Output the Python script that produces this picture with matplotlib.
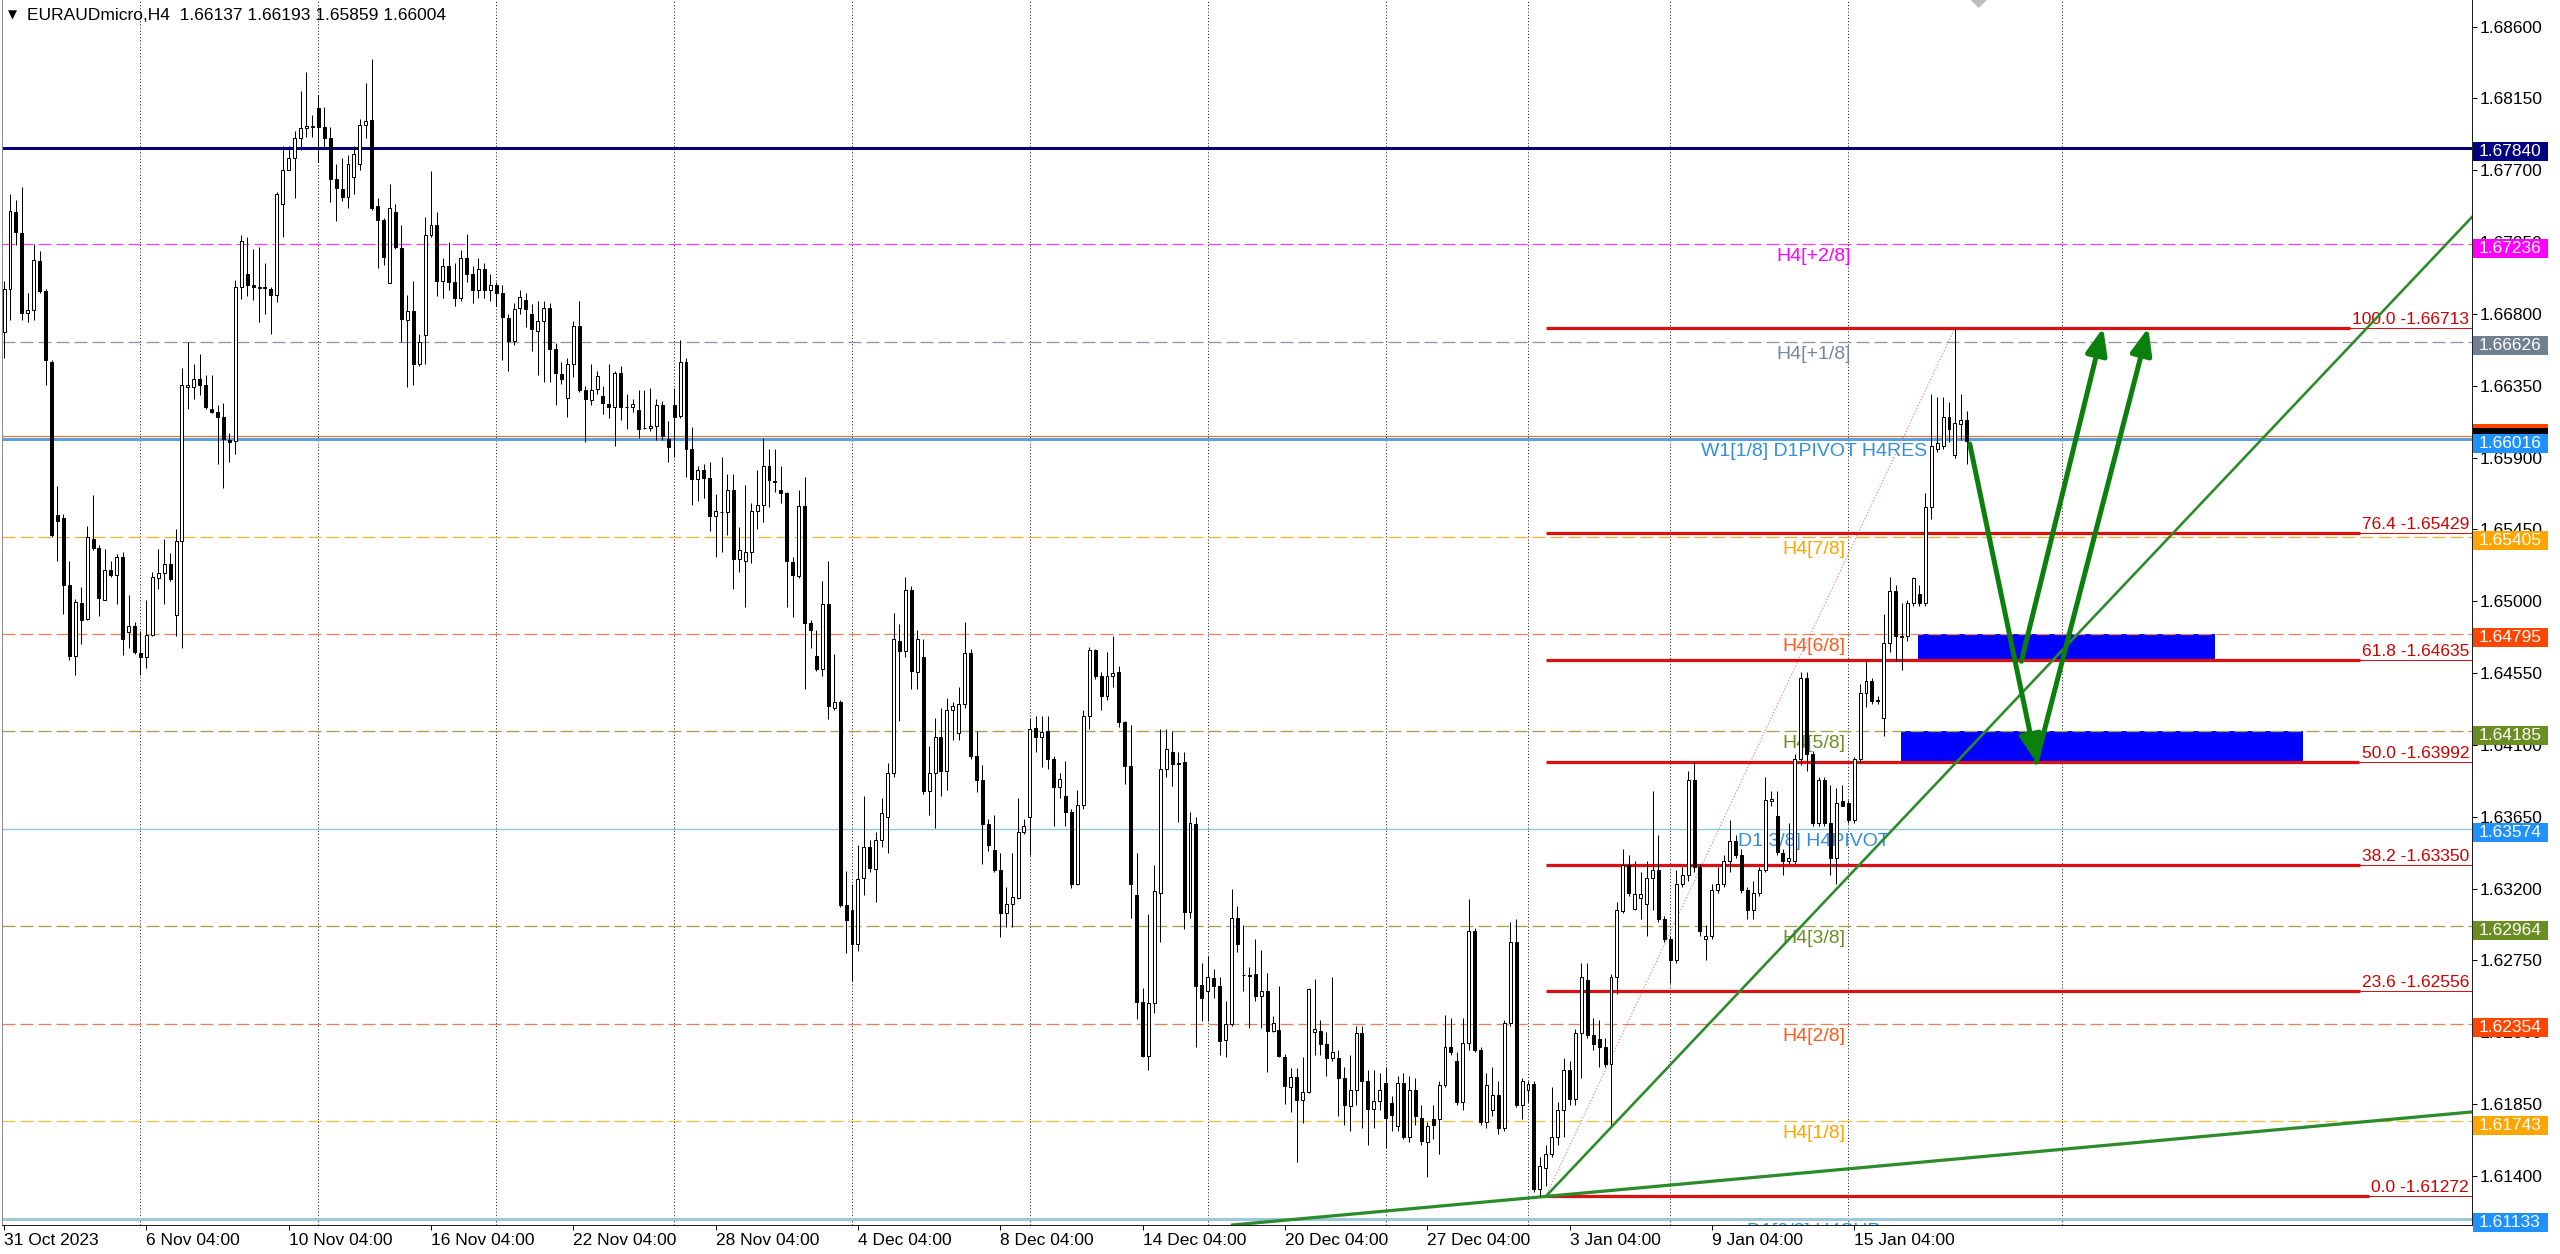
import numpy as np
import matplotlib
matplotlib.use("Agg")
import matplotlib.pyplot as plt
from matplotlib.patches import Rectangle, FancyArrowPatch, Polygon
from matplotlib.transforms import blended_transform_factory

plt.rcParams['font.family'] = ['Liberation Sans', 'DejaVu Sans']
plt.rcParams['lines.scale_dashes'] = False

# ---------------------------------------------------------------- data
symbol = 'EURAUDmicro,H4'

opens = [
    1.66686, 1.66958, 1.67440, 1.67304, 1.66805, 1.66827, 1.67131, 1.66946, 1.66501, 1.65541,
    1.65519, 1.65103, 1.64658, 1.64992, 1.64886, 1.65388, 1.65331, 1.65010, 1.65195, 1.65165,
    1.65277, 1.64807, 1.64844, 1.64678, 1.64651, 1.64787, 1.65148, 1.65178, 1.65232, 1.64911,
    1.65376, 1.66345, 1.66345, 1.66389, 1.66352, 1.66204, 1.66187, 1.66155, 1.66011, 1.66006,
    1.66971, 1.67052, 1.66978, 1.66971, 1.66968, 1.66958, 1.66921, 1.67490, 1.67700, 1.67779,
    1.67903, 1.67967, 1.67972, 1.68091, 1.67972, 1.67903, 1.67643, 1.67584, 1.67532, 1.67656,
    1.67737, 1.67984, 1.68017, 1.67473, 1.67386, 1.66995, 1.67440, 1.67213, 1.66760, 1.66815,
    1.66488, 1.66666, 1.67292, 1.67354, 1.67008, 1.67100, 1.67000, 1.66900, 1.67150, 1.67050,
    1.66950, 1.67080, 1.66950, 1.66980, 1.66930, 1.66775, 1.66629, 1.66837, 1.66890, 1.66797,
    1.66694, 1.66756, 1.66837, 1.66580, 1.66423, 1.66276, 1.66485, 1.66721, 1.66322, 1.66260,
    1.66330, 1.66287, 1.66238, 1.66219, 1.66431, 1.66219, 1.66214, 1.66200, 1.66086, 1.66086,
    1.66100, 1.66227, 1.66016, 1.66227, 1.66160, 1.66498, 1.65956, 1.65767, 1.65821, 1.65772,
    1.65536, 1.65558, 1.65558, 1.65699, 1.65265, 1.65251, 1.65306, 1.65563, 1.65604, 1.65848,
    1.65753, 1.65699, 1.65677, 1.65243, 1.65157, 1.65598, 1.64866, 1.64655, 1.64574, 1.64980,
    1.64330, 1.64370, 1.63096, 1.63069, 1.62853, 1.63264, 1.63462, 1.63325, 1.63502, 1.63646,
    1.63923, 1.64753, 1.64687, 1.65069, 1.64555, 1.64648, 1.63809, 1.63923, 1.64147, 1.63936,
    1.64318, 1.64173, 1.64358, 1.64674, 1.64028, 1.63883, 1.63606, 1.63440, 1.63317, 1.63045,
    1.63106, 1.63140, 1.63554, 1.63646, 1.64205, 1.64147, 1.64187, 1.64015, 1.63836, 1.63783,
    1.63678, 1.63230, 1.63725, 1.64279, 1.64693, 1.64529, 1.64405, 1.64529, 1.64555, 1.64244,
    1.63970, 1.63158, 1.62491, 1.62149, 1.62481, 1.63172, 1.63949, 1.64055, 1.63989, 1.63994,
    1.63053, 1.63606, 1.62597, 1.62560, 1.62639, 1.62587, 1.62249, 1.62349, 1.63013, 1.62662,
    1.62662, 1.62665, 1.62526, 1.62560, 1.62307, 1.62315, 1.62143, 1.61959, 1.62017, 1.61875,
    1.61927, 1.62302, 1.62309, 1.62229, 1.62138, 1.62138, 1.62011, 1.61836, 1.61938, 1.62294,
    1.61992, 1.61822, 1.61872, 1.61982, 1.61858, 1.61713, 1.61982, 1.61647, 1.61938, 1.61764,
    1.61611, 1.61756, 1.61756, 1.61967, 1.62211, 1.62120, 1.61865, 1.62236, 1.62937, 1.62192,
    1.61738, 1.61811, 1.61909, 1.61702, 1.62356, 1.62865, 1.61847, 1.61938, 1.61974, 1.61320,
    1.61447, 1.61538, 1.61647, 1.61811, 1.62065, 1.61883, 1.62294, 1.62629, 1.62283, 1.62258,
    1.62211, 1.62102, 1.62647, 1.63057, 1.63348, 1.63071, 1.63144, 1.63101, 1.63264, 1.63319,
    1.63010, 1.62883, 1.62755, 1.63228, 1.63283, 1.63882, 1.63337, 1.62883, 1.62901, 1.63192,
    1.63228, 1.63373, 1.63501, 1.63410, 1.63192, 1.63064, 1.63173, 1.63319, 1.63748, 1.63653,
    1.63421, 1.63373, 1.63373, 1.64009, 1.64518, 1.64046, 1.63610, 1.63882, 1.63610, 1.63391,
    1.63748, 1.63737, 1.63628, 1.64009, 1.64427, 1.64500, 1.64380, 1.64271, 1.64736, 1.65063,
    1.64780, 1.64780, 1.64990, 1.65045, 1.64990, 1.65590, 1.65953, 1.65971, 1.66153, 1.65917,
    1.66110, 1.66137,
]

highs = [
    1.67008, 1.67552, 1.67515, 1.67594, 1.66929, 1.67235, 1.67193, 1.66958, 1.66513, 1.65722,
    1.65549, 1.65252, 1.65017, 1.65091, 1.65474, 1.65667, 1.65351, 1.65326, 1.65252, 1.65296,
    1.65306, 1.65042, 1.64869, 1.64812, 1.65005, 1.65183, 1.65326, 1.65388, 1.65301, 1.65450,
    1.66464, 1.66624, 1.66488, 1.66550, 1.66414, 1.66414, 1.66229, 1.66241, 1.66056, 1.67013,
    1.67292, 1.67280, 1.67206, 1.67218, 1.67119, 1.66971, 1.67564, 1.67849, 1.67849, 1.67947,
    1.68195, 1.68313, 1.68046, 1.68170, 1.68096, 1.67972, 1.67737, 1.67779, 1.67794, 1.67849,
    1.68022, 1.68244, 1.68397, 1.67527, 1.67403, 1.67614, 1.67490, 1.67354, 1.66921, 1.67008,
    1.66674, 1.67408, 1.67695, 1.67440, 1.67150, 1.67250, 1.67120, 1.67200, 1.67300, 1.67100,
    1.67150, 1.67120, 1.67050, 1.67000, 1.66980, 1.66800, 1.66870, 1.66950, 1.66930, 1.66860,
    1.66878, 1.66880, 1.66870, 1.66620, 1.66498, 1.66526, 1.66756, 1.66878, 1.66349, 1.66485,
    1.66444, 1.66349, 1.66485, 1.66444, 1.66471, 1.66295, 1.66268, 1.66322, 1.66322, 1.66336,
    1.66268, 1.66254, 1.66132, 1.66336, 1.66634, 1.66526, 1.66092, 1.65848, 1.65861, 1.65875,
    1.65672, 1.65902, 1.65794, 1.65794, 1.65468, 1.65726, 1.65618, 1.65821, 1.66024, 1.65956,
    1.65956, 1.65848, 1.65685, 1.65279, 1.65699, 1.65780, 1.64885, 1.64818, 1.65129, 1.65251,
    1.64669, 1.64384, 1.63313, 1.63232, 1.63476, 1.63778, 1.63502, 1.63554, 1.63765, 1.63989,
    1.64924, 1.64859, 1.65154, 1.65096, 1.64819, 1.64766, 1.64094, 1.64266, 1.64331, 1.64397,
    1.64371, 1.64463, 1.64872, 1.64700, 1.64187, 1.63976, 1.63633, 1.63659, 1.63422, 1.63211,
    1.63422, 1.63765, 1.63633, 1.64266, 1.64279, 1.64279, 1.64279, 1.64028, 1.63923, 1.64002,
    1.63699, 1.63818, 1.64318, 1.64713, 1.64700, 1.64555, 1.64679, 1.64785, 1.64595, 1.64250,
    1.64226, 1.63422, 1.62578, 1.63040, 1.63351, 1.64200, 1.64200, 1.64187, 1.64055, 1.64055,
    1.63678, 1.63646, 1.62737, 1.62776, 1.62697, 1.62644, 1.62499, 1.63198, 1.63093, 1.62974,
    1.62710, 1.62882, 1.62816, 1.62671, 1.62402, 1.62592, 1.62165, 1.62077, 1.62077, 1.62143,
    1.62578, 1.62631, 1.62374, 1.62302, 1.62647, 1.62192, 1.62084, 1.62156, 1.62338, 1.62338,
    1.62065, 1.62065, 1.62047, 1.62084, 1.61902, 1.62029, 1.62047, 1.62029, 1.62011, 1.61847,
    1.61738, 1.61847, 1.61993, 1.62410, 1.62392, 1.62174, 1.62392, 1.63137, 1.62956, 1.62211,
    1.62047, 1.62084, 1.61993, 1.62374, 1.62992, 1.63010, 1.62011, 1.61993, 1.61993, 1.61520,
    1.61593, 1.61956, 1.61865, 1.62138, 1.62120, 1.62320, 1.62737, 1.62737, 1.62392, 1.62374,
    1.62265, 1.62665, 1.63119, 1.63446, 1.63410, 1.63373, 1.63301, 1.63373, 1.63809, 1.63537,
    1.63028, 1.62901, 1.63319, 1.63337, 1.63937, 1.63991, 1.63355, 1.62974, 1.63228, 1.63337,
    1.63410, 1.63628, 1.63537, 1.63446, 1.63210, 1.63246, 1.63337, 1.63900, 1.63809, 1.63809,
    1.63446, 1.63610, 1.64045, 1.64554, 1.64554, 1.64064, 1.63900, 1.63900, 1.63846, 1.63828,
    1.63846, 1.63755, 1.64027, 1.64482, 1.64627, 1.64518, 1.64409, 1.64918, 1.65154, 1.65099,
    1.64990, 1.65008, 1.65154, 1.65099, 1.65681, 1.66299, 1.66280, 1.66280, 1.66250, 1.66713,
    1.66299, 1.66193,
]

lows = [
    1.66525, 1.66760, 1.67230, 1.66760, 1.66748, 1.66760, 1.66933, 1.66352, 1.65405, 1.65252,
    1.64917, 1.64634, 1.64535, 1.64733, 1.64881, 1.65321, 1.64906, 1.65005, 1.65153, 1.64980,
    1.64663, 1.64708, 1.64671, 1.64535, 1.64584, 1.64782, 1.65079, 1.64980, 1.65128, 1.64782,
    1.64708, 1.66204, 1.66266, 1.66290, 1.66204, 1.66179, 1.65858, 1.65709, 1.65870, 1.65920,
    1.66896, 1.66909, 1.66889, 1.66748, 1.66797, 1.66674, 1.66872, 1.67280, 1.67700, 1.67527,
    1.67824, 1.67910, 1.67910, 1.67750, 1.67836, 1.67502, 1.67379, 1.67507, 1.67465, 1.67552,
    1.67700, 1.67903, 1.67453, 1.67087, 1.67107, 1.66995, 1.67206, 1.66624, 1.66340, 1.66352,
    1.66476, 1.66488, 1.67280, 1.66909, 1.66900, 1.66950, 1.66850, 1.66880, 1.67000, 1.66865,
    1.66900, 1.66900, 1.66880, 1.66850, 1.66512, 1.66444, 1.66607, 1.66797, 1.66715, 1.66566,
    1.66417, 1.66376, 1.66376, 1.66227, 1.66363, 1.66151, 1.66404, 1.66309, 1.65997, 1.66227,
    1.66295, 1.66173, 1.66146, 1.65970, 1.66133, 1.66078, 1.66187, 1.66024, 1.66078, 1.66065,
    1.66010, 1.66010, 1.65875, 1.65902, 1.66146, 1.65780, 1.65604, 1.65631, 1.65645, 1.65441,
    1.65279, 1.65306, 1.65414, 1.65075, 1.65184, 1.64967, 1.65238, 1.65455, 1.65495, 1.65590,
    1.65685, 1.65617, 1.64967, 1.64899, 1.65143, 1.64452, 1.64709, 1.64560, 1.64533, 1.64262,
    1.64316, 1.63083, 1.62798, 1.62622, 1.62812, 1.63158, 1.63303, 1.63119, 1.63462, 1.63422,
    1.63896, 1.64252, 1.64648, 1.64450, 1.64450, 1.63791, 1.63659, 1.63580, 1.63778, 1.63818,
    1.64134, 1.64134, 1.64331, 1.64015, 1.63804, 1.63356, 1.63435, 1.63303, 1.62895, 1.62961,
    1.62961, 1.63132, 1.63541, 1.63409, 1.64055, 1.63962, 1.63949, 1.63593, 1.63765, 1.63593,
    1.63203, 1.63224, 1.63699, 1.64200, 1.64516, 1.64318, 1.64384, 1.64463, 1.64213, 1.63857,
    1.63019, 1.62381, 1.62143, 1.62064, 1.62420, 1.62868, 1.63896, 1.63844, 1.63620, 1.62948,
    1.63013, 1.62209, 1.62368, 1.62368, 1.62513, 1.62157, 1.62143, 1.62341, 1.62803, 1.62560,
    1.62328, 1.62499, 1.62328, 1.62051, 1.62302, 1.62143, 1.61854, 1.61801, 1.61485, 1.61735,
    1.61920, 1.62157, 1.62156, 1.62029, 1.62120, 1.61775, 1.61720, 1.61684, 1.61847, 1.61702,
    1.61593, 1.61702, 1.61811, 1.61575, 1.61684, 1.61684, 1.61629, 1.61611, 1.61720, 1.61593,
    1.61393, 1.61629, 1.61538, 1.61956, 1.62156, 1.61847, 1.61811, 1.62192, 1.62174, 1.61720,
    1.61702, 1.61775, 1.61665, 1.61684, 1.62338, 1.61829, 1.61756, 1.61865, 1.61302, 1.61272,
    1.61338, 1.61520, 1.61593, 1.61647, 1.61847, 1.61847, 1.62011, 1.62265, 1.62192, 1.62083,
    1.62083, 1.61720, 1.62538, 1.63046, 1.63155, 1.63064, 1.63010, 1.62901, 1.63064, 1.62992,
    1.62865, 1.62610, 1.62737, 1.63210, 1.63246, 1.63301, 1.62901, 1.62755, 1.62883, 1.63173,
    1.63210, 1.63301, 1.63391, 1.63173, 1.63010, 1.63010, 1.63155, 1.63301, 1.63719, 1.63410,
    1.63283, 1.63355, 1.63355, 1.63973, 1.63937, 1.63591, 1.63591, 1.63591, 1.63283, 1.63228,
    1.63719, 1.63610, 1.63610, 1.63991, 1.64336, 1.64355, 1.64355, 1.64155, 1.64681, 1.64627,
    1.64572, 1.64754, 1.64972, 1.64972, 1.64972, 1.65517, 1.65935, 1.65953, 1.66000, 1.65899,
    1.66008, 1.65859,
]

closes = [
    1.66958, 1.67445, 1.67312, 1.66805, 1.66827, 1.67136, 1.66946, 1.66513, 1.65412, 1.65504,
    1.65103, 1.64658, 1.64997, 1.64881, 1.65400, 1.65331, 1.65022, 1.65197, 1.65165, 1.65277,
    1.64762, 1.64844, 1.64683, 1.64651, 1.64787, 1.65153, 1.65178, 1.65232, 1.65141, 1.65376,
    1.66352, 1.66352, 1.66389, 1.66352, 1.66216, 1.66187, 1.66155, 1.66018, 1.65999, 1.66971,
    1.67255, 1.66983, 1.66971, 1.66963, 1.66961, 1.66921, 1.67552, 1.67700, 1.67779, 1.67903,
    1.67965, 1.67977, 1.67975, 1.67972, 1.67903, 1.67643, 1.67589, 1.67532, 1.67737, 1.67799,
    1.67984, 1.68009, 1.67465, 1.67391, 1.67156, 1.67465, 1.67218, 1.66765, 1.66815, 1.66488,
    1.66624, 1.67292, 1.67354, 1.67008, 1.67100, 1.67000, 1.66900, 1.67150, 1.67050, 1.66950,
    1.67080, 1.66950, 1.66980, 1.66930, 1.66783, 1.66629, 1.66829, 1.66905, 1.66829, 1.66707,
    1.66756, 1.66837, 1.66580, 1.66431, 1.66395, 1.66485, 1.66721, 1.66322, 1.66268, 1.66322,
    1.66409, 1.66241, 1.66219, 1.66431, 1.66219, 1.66219, 1.66238, 1.66078, 1.66083, 1.66100,
    1.66227, 1.66032, 1.65964, 1.66151, 1.66498, 1.65956, 1.65767, 1.65821, 1.65772, 1.65536,
    1.65563, 1.65556, 1.65699, 1.65265, 1.65319, 1.65306, 1.65563, 1.65604, 1.65848, 1.65761,
    1.65750, 1.65677, 1.65251, 1.65162, 1.65598, 1.64866, 1.64818, 1.64574, 1.64980, 1.64343,
    1.64370, 1.63096, 1.63001, 1.62853, 1.63259, 1.63462, 1.63330, 1.63502, 1.63672, 1.63923,
    1.64766, 1.64687, 1.65069, 1.64561, 1.64766, 1.63809, 1.63923, 1.64147, 1.63936, 1.64318,
    1.64345, 1.64358, 1.64674, 1.64028, 1.63883, 1.63606, 1.63475, 1.63317, 1.63045, 1.63106,
    1.63145, 1.63554, 1.63593, 1.64200, 1.64147, 1.64179, 1.64015, 1.63836, 1.63889, 1.63678,
    1.63230, 1.63725, 1.64279, 1.64695, 1.64529, 1.64405, 1.64529, 1.64550, 1.64244, 1.63970,
    1.63230, 1.62491, 1.62149, 1.62481, 1.63185, 1.63949, 1.64073, 1.63981, 1.63983, 1.63053,
    1.63614, 1.62592, 1.62513, 1.62644, 1.62592, 1.62244, 1.62349, 1.63013, 1.62855, 1.62657,
    1.62655, 1.62526, 1.62560, 1.62307, 1.62360, 1.62149, 1.61964, 1.62017, 1.61875, 1.61927,
    1.62571, 1.62323, 1.62229, 1.62138, 1.62174, 1.62011, 1.61847, 1.61938, 1.62294, 1.61992,
    1.61822, 1.61872, 1.61938, 1.61764, 1.61785, 1.61982, 1.61647, 1.61938, 1.61774, 1.61618,
    1.61713, 1.61720, 1.61967, 1.62211, 1.62174, 1.61865, 1.62236, 1.62937, 1.62192, 1.61738,
    1.61967, 1.61909, 1.61702, 1.62356, 1.62865, 1.61847, 1.61993, 1.61974, 1.61320, 1.61465,
    1.61538, 1.61647, 1.61811, 1.62065, 1.61883, 1.62294, 1.62647, 1.62283, 1.62229, 1.62211,
    1.62102, 1.62647, 1.63064, 1.63348, 1.63173, 1.63166, 1.63166, 1.63264, 1.63319, 1.63010,
    1.62883, 1.62755, 1.63228, 1.63283, 1.63882, 1.63337, 1.62937, 1.62901, 1.63192, 1.63228,
    1.63373, 1.63501, 1.63410, 1.63192, 1.63064, 1.63173, 1.63319, 1.63755, 1.63762, 1.63428,
    1.63373, 1.63391, 1.64009, 1.64518, 1.64046, 1.63610, 1.63882, 1.63610, 1.63391, 1.63737,
    1.63719, 1.63628, 1.64009, 1.64427, 1.64500, 1.64373, 1.64373, 1.64736, 1.65063, 1.64780,
    1.64773, 1.64990, 1.65143, 1.64990, 1.65590, 1.65971, 1.65990, 1.66153, 1.66080, 1.66117,
    1.66135, 1.66004,
]

# time axis (bar index of each label) and weekly grid
time_labels = ['31 Oct 2023', '6 Nov 04:00', '10 Nov 04:00', '16 Nov 04:00', '22 Nov 04:00',
               '28 Nov 04:00', '4 Dec 04:00', '8 Dec 04:00', '14 Dec 04:00', '20 Dec 04:00',
               '27 Dec 04:00', '3 Jan 04:00', '9 Jan 04:00', '15 Jan 04:00']
time_bars = [0, 24, 48, 72, 96, 120, 144, 168, 192, 216, 240, 264, 288, 312]
grid_bars = [23, 53, 83, 113, 143, 173, 203, 233, 257, 281, 311, 347]

price_ticks = [1.68600, 1.68150, 1.67700, 1.67250, 1.66800, 1.66350, 1.65900, 1.65450,
               1.65000, 1.64550, 1.64100, 1.63650, 1.63200, 1.62750, 1.62300, 1.61850, 1.61400]

# horizontal levels
weekly_level = 1.67840
resistance_level = 1.66037
murrey_labels = ['H4[+2/8]', 'H4[+1/8]', 'H4[7/8]', 'H4[6/8]', 'H4[5/8]',
                 'H4[3/8]', 'H4[2/8]', 'H4[1/8]']
murrey_prices = [1.67236, 1.66626, 1.65405, 1.64795, 1.64185, 1.62964, 1.62354, 1.61743]
pivot_labels = ['W1[1/8] D1PIVOT H4RES', 'D1[3/8] H4PIVOT', 'D1[0/8] H4SUP']
pivot_prices = [1.66016, 1.63574, 1.61133]
label_bar = 305.2

# fibonacci retracement
fib_levels = [100.0, 76.4, 61.8, 50.0, 38.2, 23.6, 0.0]
fib_prices = [1.66713, 1.65429, 1.64635, 1.63992, 1.63350, 1.62556, 1.61272]
fib_low_bar, fib_high_bar = 260, 329

# blue zones (bar from, bar to, price low, price high)
zone_bars = [(322.7, 372.8), (319.9, 387.7)]
zone_prices = [(1.64635, 1.64795), (1.63992, 1.64185)]

# trend lines from the swing low
steep_end = (416.2, 1.67407)
shallow_point = (333.2, 1.61520)

# forecast arrows (start, end)
arrow_paths = [((331.5, 1.65985), (342.7, 1.63992)),
               ((340.2, 1.64624), (354.0, 1.66713)),
               ((342.7, 1.63992), (361.6, 1.66713))]

# ---------------------------------------------------------------- figure
W, H, DPI = 2560, 1254, 100
PX = 72 / DPI
PRICE_TOP, PRICE_BOTTOM = 1.68766, 1.61093
BAR_LEFT, BAR_RIGHT = -0.35, 416.2
PLOT_W, PLOT_H = 2470, 1225
P_PER_PX = (PRICE_TOP - PRICE_BOTTOM) / PLOT_H

fig = plt.figure(figsize=(W / DPI, H / DPI), dpi=DPI, facecolor='white')
ax = fig.add_axes([2 / W, (H - PLOT_H) / H, PLOT_W / W, PLOT_H / H])
ax.set_xlim(BAR_LEFT, BAR_RIGHT)
ax.set_ylim(PRICE_BOTTOM, PRICE_TOP)
bt = blended_transform_factory(ax.transAxes, ax.transData)

dash = (0, (13 * PX, 5 * PX))
dots = (0, (1.2 * PX, 2 * PX))

for g in grid_bars:
    ax.axvline(g, color='#3c3c3c', lw=1 * PX, ls=dots, zorder=0.5)

# blue zones
for (b0, b1), (p0, p1) in zip(zone_bars, zone_prices):
    ax.add_patch(Rectangle((b0, p0), b1 - b0, p1 - p0, facecolor='#0000ff',
                           edgecolor='none', zorder=1))

# level lines
ax.axhline(weekly_level, color='#000080', lw=3 * PX, zorder=2)
ax.axhline(resistance_level, color='#d2783c', lw=1.2 * PX, zorder=2)
murrey_colors = ['#ee44ee', '#8a96a6', '#f0b030', '#e8805a', '#a0a050',
                 '#a0a050', '#e8805a', '#f0c040']
for p, col in zip(murrey_prices, murrey_colors):
    ax.axhline(p, color=col, lw=1.3 * PX, ls=dash, zorder=2)
pivot_line_colors = ['#5aa0e0', '#8cc4dc', '#9cc8dc']
pivot_line_widths = [3, 1.3, 3]
for p, col, lw in zip(pivot_prices, pivot_line_colors, pivot_line_widths):
    ax.axhline(p, color=col, lw=lw * PX, zorder=2)

# level names
murrey_text_colors = ['#ff00ff', '#778899', '#ffa500', '#ff5a1e', '#6b8e23',
                      '#6b8e23', '#ff5a1e', '#ffa500']
for lab, p, col in zip(murrey_labels + pivot_labels, murrey_prices + pivot_prices,
                       murrey_text_colors + ['#2f8fe0'] * 3):
    ax.annotate(lab, xy=(label_bar, p), xytext=(0, -4), textcoords='offset pixels',
                ha='center', va='top', fontsize=14, color=col, zorder=3,
                annotation_clip=False, clip_on=True)

# fibonacci
fib_red = '#dc1010'
ax.plot([fib_low_bar, fib_high_bar], [min(fib_prices), max(fib_prices)],
        color='#e07070', lw=1 * PX, ls=dots, zorder=3)
fib_texts = []
for lev, p in zip(fib_levels, fib_prices):
    t = ax.annotate(f'{lev:.1f} -{p:.5f}', xy=(1.0, p), xycoords=('axes fraction', 'data'),
                    xytext=(-3, 4), textcoords='offset pixels', ha='right',
                    va='baseline', fontsize=12.5, color='#d00000', zorder=3)
    fib_texts.append(t)
fig.canvas.draw()
inv = ax.transData.inverted()
for t, p in zip(fib_texts, fib_prices):
    x_end = inv.transform((t.get_window_extent().x0 - 2, 0))[0]
    ax.plot([fib_low_bar, x_end], [p, p], color=fib_red, lw=3.2 * PX,
            solid_capstyle='butt', zorder=3)
    ax.plot([x_end, BAR_RIGHT], [p, p], color=fib_red, lw=1 * PX, zorder=3)

# trend lines
green = '#2a8c2a'
ax.plot([fib_low_bar, steep_end[0]], [min(fib_prices), steep_end[1]], color=green,
        lw=2.6 * PX, zorder=4)
ax.axline((fib_low_bar, min(fib_prices)), shallow_point, color=green, lw=3.2 * PX, zorder=4)

# candles
o, h, l, c = (np.array(a) for a in (opens, highs, lows, closes))
idx = np.arange(len(o))
up = c >= o
ax.vlines(idx, np.minimum(l, np.minimum(o, c)), np.maximum(h, np.maximum(o, c)),
          colors='black', lw=1 * PX, zorder=6)
bw = 0.5
ax.bar(idx[up], c[up] - o[up], bottom=o[up], width=bw, facecolor='white',
       edgecolor='black', lw=1 * PX, zorder=7)
ax.bar(idx[~up], o[~up] - c[~up], bottom=c[~up], width=bw, facecolor='black',
       edgecolor='black', lw=1 * PX, zorder=7)

# forecast arrows
for (x0, y0), (x1, y1) in arrow_paths:
    ax.add_patch(FancyArrowPatch((x0, y0), (x1, y1), arrowstyle='-|>,head_length=16,head_width=6.5',
                                 mutation_scale=1, color='#0c800c', lw=5 * PX,
                                 shrinkA=0, shrinkB=0, zorder=8))

# chart shift marker
sx = len(o) + 1
ax.add_patch(Polygon([(sx - 1.35, 1.0), (sx + 1.35, 1.0), (sx, 1 - 8 / PLOT_H)],
                     closed=True, transform=blended_transform_factory(ax.transData, ax.transAxes),
                     facecolor='#bdbdbd', edgecolor='none', clip_on=False, zorder=9))

# axes styling
ax.spines['top'].set_visible(False)
ax.spines['left'].set_color('#8c8c8c')
ax.spines['right'].set_color('#202020')
ax.spines['bottom'].set_color('#202020')
for s in ['left', 'right', 'bottom']:
    ax.spines[s].set_linewidth(1 * PX)

ax.yaxis.tick_right()
ax.set_yticks(price_ticks)
ax.set_yticklabels([f'{p:.5f}' for p in price_ticks])
ax.tick_params(axis='y', length=5 * PX, width=1 * PX, pad=3 * PX, labelsize=12.5,
               colors='black')
ax.set_xticks(time_bars)
ax.set_xticklabels(time_labels, ha='left')
ax.tick_params(axis='x', length=5 * PX, width=1 * PX, pad=3 * PX, labelsize=12.5,
               colors='black')


def price_box(price, color, show_text=True):
    yc = price - 4 * P_PER_PX
    hh = 19 * P_PER_PX
    ax.add_patch(Rectangle((1 + 1 / PLOT_W, yc - hh / 2), 75 / PLOT_W, hh, transform=bt,
                           facecolor=color, edgecolor='none', clip_on=False, zorder=20))
    if show_text:
        ax.text(1 + 7 / PLOT_W, yc, f'{price:.5f}', transform=bt, color='white',
                fontsize=12.5, va='center', ha='left', clip_on=False, zorder=21)


box_colors = ['#ff00ff', '#708090', '#ffa500', '#ff4500', '#6b8e23',
              '#6b8e23', '#ff4500', '#ffa500']
price_box(weekly_level, '#000080')
for p, col in zip(murrey_prices, box_colors):
    price_box(p, col)
price_box(resistance_level + 0.00038, '#ff4500', show_text=False)
price_box(c[-1] + 0.00046, '#000000', show_text=False)
for p in pivot_prices:
    price_box(p, '#1e90ff')

# header
fig.text(8 / W, 1 - 15 / H, '\u25bc', family='DejaVu Sans', fontsize=8.5, va='center', ha='left')
fig.text(27 / W, 1 - 15 / H,
         f'{symbol}  {o[-1]:.5f} {h[-1]:.5f} {l[-1]:.5f} {c[-1]:.5f}',
         fontsize=12.5, va='center', ha='left')

fig.savefig('out.png', dpi=DPI, facecolor='white')
